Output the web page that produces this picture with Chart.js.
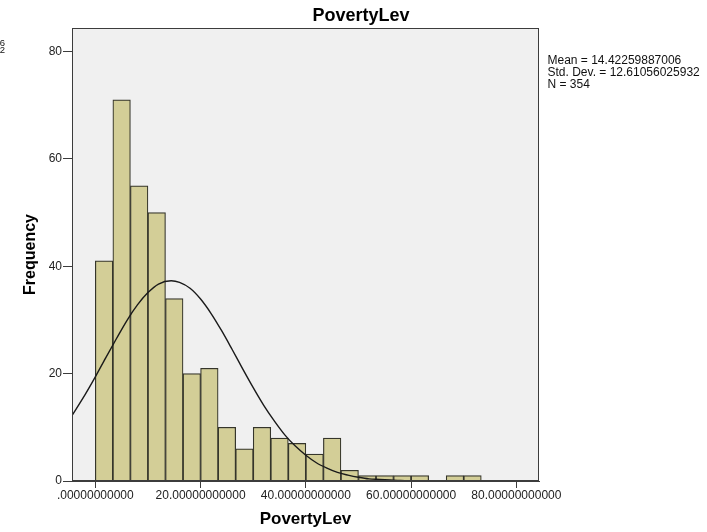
<!DOCTYPE html>
<html>
<head>
<meta charset="utf-8">
<script src="https://cdn.jsdelivr.net/npm/chart.js@4.4.1/dist/chart.umd.min.js"></script>
<style>
  html, body { margin: 0; padding: 0; background: #fff; }
  #wrap { width: 707px; height: 532px; position: relative; }
</style>
</head>
<body>
<div id="wrap"><canvas id="hist"></canvas></div>
<script>
// histogram bins (lower edge) and frequencies
var binStarts = [0, 3.333, 6.667, 10, 13.333, 16.667, 20, 23.333, 26.667, 30, 33.333,
                 36.667, 40, 43.333, 46.667, 50, 53.333, 56.667, 60, 63.333, 66.667, 70];
var binCounts = [41, 71, 55, 50, 34, 20, 21, 10, 6, 10, 8,
                 7, 5, 8, 2, 1, 1, 1, 1, 0, 1, 1];
var binWidth = 3.333;

// normal curve
var curveX = [-4.43, -2, 0, 2, 4, 6, 8, 10, 12, 14.42, 16, 18, 20, 22, 24, 26, 28, 30,
              32, 34, 36, 38, 40, 42, 44, 46, 48, 50, 52, 54, 56, 58, 60, 64, 84.3];
var curveY = [12.2, 16.0, 19.4, 23.0, 26.5, 29.9, 32.8, 35.1, 36.7, 37.3, 37.0, 35.9, 33.9,
              31.2, 28.0, 24.5, 20.9, 17.4, 14.1, 11.2, 8.6, 6.5, 4.8, 3.4, 2.4, 1.6, 1.1,
              0.7, 0.4, 0.3, 0.2, 0.1, 0.05, 0, 0];

var xTicks = [0, 20, 40, 60, 80];
var xTickLabels = ['.00000000000', '20.00000000000', '40.00000000000', '60.00000000000', '80.00000000000'];
var yTicks = [0, 20, 40, 60, 80];

var statLines = ['Mean = 14.42259887006', 'Std. Dev. = 12.61056025932', 'N = 354'];
var chartTitle = 'PovertyLev';

var FONT = '"Liberation Sans", Arial, sans-serif';

var barPoints = binStarts.map(function(s, i) {
  return { x: s + binWidth / 2, y: binCounts[i] };
});
var curvePoints = curveX.map(function(x, i) {
  return { x: x, y: curveY[i] };
});

var frame = {
  id: 'frame',
  beforeDatasetsDraw: function(chart) {
    var a = chart.chartArea, ctx = chart.ctx;
    ctx.save();
    ctx.fillStyle = '#f0f0f0';
    ctx.fillRect(a.left, a.top, a.right - a.left, a.bottom - a.top);
    ctx.restore();
  },
  afterDraw: function(chart) {
    var a = chart.chartArea, ctx = chart.ctx;
    ctx.save();
    ctx.strokeStyle = '#3c3c3c';
    ctx.lineWidth = 1;
    ctx.strokeRect(a.left + 0.5, a.top + 0.5, a.right - a.left - 1, a.bottom - a.top - 1);

    ctx.fillStyle = '#000';
    ctx.font = 'bold 18px ' + FONT;
    ctx.textAlign = 'center';
    ctx.textBaseline = 'alphabetic';
    ctx.fillText(chartTitle, 361, 21);

    ctx.font = '12px ' + FONT;
    ctx.textAlign = 'left';
    ctx.fillStyle = '#111';
    for (var i = 0; i < statLines.length; i++) {
      ctx.fillText(statLines[i], 547.5, 63.5 + i * 12);
    }

    // clipped leftovers of a neighbouring legend at the far left edge
    ctx.font = '9.5px ' + FONT;
    ctx.textAlign = 'right';
    ctx.fillText(statLines[0], 5, 45.5);
    ctx.fillText(statLines[1], 5, 53);
    ctx.restore();
  }
};

new Chart(document.getElementById('hist'), {
  type: 'bar',
  data: {
    datasets: [{
      type: 'line',
      data: curvePoints,
      borderColor: '#1a1a1a',
      borderWidth: 1.4,
      pointRadius: 0,
      fill: false,
      cubicInterpolationMode: 'monotone',
      order: 0
    }, {
      type: 'bar',
      data: barPoints,
      backgroundColor: 'rgb(211,206,151)',
      borderColor: '#35352b',
      borderWidth: 1.2,
      barPercentage: 1,
      categoryPercentage: 1,
      order: 1
    }]
  },
  options: {
    responsive: true,
    maintainAspectRatio: false,
    animation: false,
    layout: { padding: { left: 0, top: 28, right: 168, bottom: 0 } },
    plugins: {
      legend: { display: false },
      tooltip: { enabled: false },
      title: { display: false }
    },
    scales: {
      x: {
        type: 'linear',
        min: -4.43,
        max: 84.3,
        offset: false,
        afterBuildTicks: function(s) { s.ticks = xTicks.map(function(v) { return { value: v }; }); },
        afterFit: function(s) { s.height = 51; },
        grid: { offset: false, drawOnChartArea: false, drawTicks: true, tickLength: 7, color: '#3c3c3c' },
        border: { display: true, color: '#3c3c3c' },
        ticks: {
          color: '#222',
          font: { family: FONT, size: 12 },
          padding: 0,
          maxRotation: 0,
          autoSkip: false,
          callback: function(v, i) { return xTickLabels[i]; }
        },
        title: {
          display: true,
          text: 'PovertyLev',
          color: '#000',
          font: { family: FONT, size: 17, weight: 'bold' },
          padding: { top: 0, bottom: 2 }
        }
      },
      y: {
        min: 0,
        max: 84.4,
        afterBuildTicks: function(s) { s.ticks = yTicks.map(function(v) { return { value: v }; }); },
        afterFit: function(s) { s.width = 72; },
        grid: { drawOnChartArea: false, drawTicks: true, tickLength: 9, color: '#3c3c3c' },
        border: { display: true, color: '#3c3c3c' },
        ticks: {
          color: '#222',
          font: { family: FONT, size: 12 },
          padding: 1
        },
        title: {
          display: true,
          text: 'Frequency',
          color: '#000',
          font: { family: FONT, size: 16, weight: 'bold' },
          padding: { top: 21, bottom: 0 }
        }
      }
    }
  },
  plugins: [frame]
});
</script>
</body>
</html>
